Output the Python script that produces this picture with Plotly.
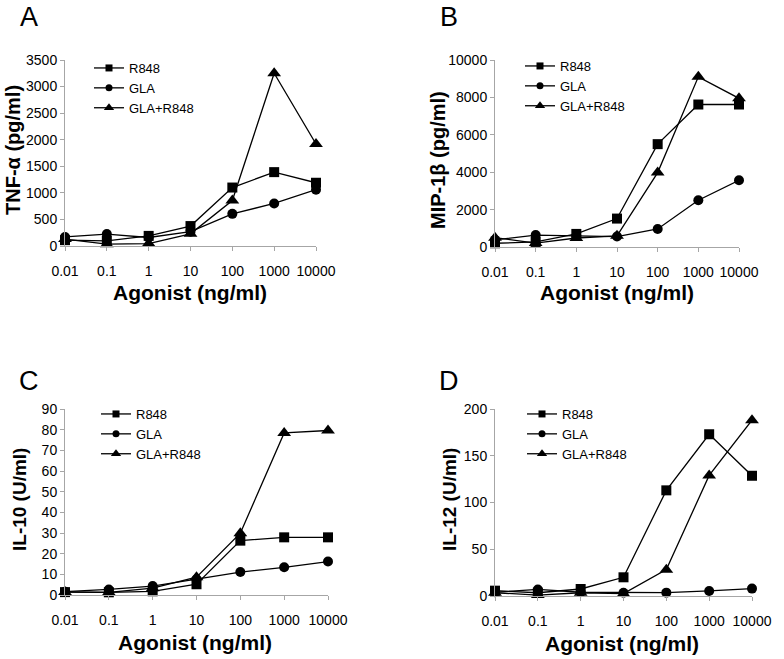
import plotly.graph_objects as go

# ---------------- data ----------------
dose_labels = ["0.01", "0.1", "1", "10", "100", "1000", "10000"]
log_dose = [-2, -1, 0, 1, 2, 3, 4]
series_names = ["R848", "GLA", "GLA+R848"]

tnf_r848 = [110, 95, 190, 375, 1100, 1390, 1190]
tnf_gla = [170, 225, 160, 270, 605, 800, 1060]
tnf_combo = [130, 35, 45, 230, 855, 3250, 1920]

mip_r848 = [200, 270, 700, 1520, 5500, 7620, 7620]
mip_gla = [380, 640, 590, 560, 965, 2500, 3570]
mip_combo = [500, 210, 480, 600, 3980, 9100, 7950]

il10_r848 = [1.4, 1.3, 1.8, 5.2, 26.3, 27.9, 27.9]
il10_gla = [1.6, 2.7, 4.3, 7.6, 11.1, 13.4, 16.2]
il10_combo = [1.5, 1.3, 3.3, 8.6, 29.9, 78.4, 79.6]

il12_r848 = [5.7, 3.5, 7.5, 20, 113, 173, 128.6]
il12_gla = [4.0, 7.0, 4.0, 3.5, 3.6, 5.4, 7.9]
il12_combo = [3.5, 1.0, 3.5, 2.5, 28.2, 129, 188]

panels = [
    dict(letter="A", ytitle="TNF-α (pg/ml)", data=[tnf_r848, tnf_gla, tnf_combo],
         ytick=list(range(0, 3501, 500)), yr=3500),
    dict(letter="B", ytitle="MIP-1β (pg/ml)", data=[mip_r848, mip_gla, mip_combo],
         ytick=list(range(0, 10001, 2000)), yr=10000),
    dict(letter="C", ytitle="IL-10 (U/ml)", data=[il10_r848, il10_gla, il10_combo],
         ytick=list(range(0, 91, 10)), yr=90),
    dict(letter="D", ytitle="IL-12 (U/ml)", data=[il12_r848, il12_gla, il12_combo],
         ytick=list(range(0, 201, 50)), yr=200),
]

# ---------------- layout geometry (pixels) ----------------
W, H = 784, 659
boxes = [(65, 316, 60, 246), (495, 739, 60, 247), (65, 328, 409, 595), (495, 752, 409, 596)]
letter_pos = [(29, 17), (449, 17), (29, 381), (449, 381)]
ytitle_pos = [(13, 150), (438, 160), (19, 500), (449, 500)]
ytitle_size = [20, 20, 19, 19]
xtitle_pos = [(190, 293), (617, 293), (195, 642), (622, 643)]
legend_pos = [(89, 53), (520, 51), (96, 399), (522, 399)]

symbols = ["square", "circle", "triangle-up"]
sizes = [10, 10, 12]
leg_sizes = [7, 7, 9]
FONT = "Liberation Sans, Arial, sans-serif"
AXIS_GRAY = "#a6a6a6"


def px(x):
    return x / W


def py(y):
    return (H - y) / H


fig = go.Figure()
layout = dict(width=W, height=H, margin=dict(l=0, r=0, t=0, b=0, autoexpand=False),
              template="none",
              paper_bgcolor="white", plot_bgcolor="white",
              font=dict(family=FONT, size=14, color="black"),
              showlegend=True, annotations=[])

for i, p in enumerate(panels):
    n = i + 1
    xa = "x" if n == 1 else f"x{n}"
    ya = "y" if n == 1 else f"y{n}"
    lg = "legend" if n == 1 else f"legend{n}"
    for k in range(3):
        fig.add_trace(go.Scatter(
            x=log_dose, y=p["data"][k], xaxis=xa, yaxis=ya, mode="lines+markers",
            line=dict(color="black", width=1.3),
            marker=dict(symbol=symbols[k], size=sizes[k], color="black"),
            cliponaxis=False, showlegend=False, name=series_names[k]))
        # legend entry
        fig.add_trace(go.Scatter(
            x=[None], y=[None], xaxis=xa, yaxis=ya, mode="lines+markers",
            line=dict(color="black", width=1.3),
            marker=dict(symbol=symbols[k], size=leg_sizes[k], color="black"),
            showlegend=True, legend=lg, name=series_names[k]))
    l, r, t, b = boxes[i]
    xk = "xaxis" if n == 1 else f"xaxis{n}"
    yk = "yaxis" if n == 1 else f"yaxis{n}"
    layout[xk] = dict(domain=[px(l), px(r)], anchor=ya, range=[-2, 4],
                      tickvals=log_dose, ticktext=dose_labels, automargin=False,
                      showline=True, linecolor=AXIS_GRAY, linewidth=1,
                      ticks="outside", ticklen=4, tickcolor=AXIS_GRAY,
                      showgrid=False, zeroline=False, ticklabelstandoff=8,
                      tickfont=dict(size=14, family=FONT, color="black"))
    layout[yk] = dict(domain=[py(b), py(t)], anchor=xa, range=[0, p["yr"]],
                      tickvals=p["ytick"], ticktext=[str(v) for v in p["ytick"]],
                      automargin=False,
                      showline=True, linecolor=AXIS_GRAY, linewidth=1,
                      ticks="outside", ticklen=4, tickcolor=AXIS_GRAY,
                      showgrid=False, zeroline=False,
                      tickfont=dict(size=14, family=FONT, color="black"))
    lx, ly = legend_pos[i]
    layout[lg] = dict(x=px(lx), y=py(ly), xanchor="left", yanchor="top",
                      bgcolor="rgba(0,0,0,0)", borderwidth=0,
                      font=dict(size=13, family=FONT, color="black"),
                      tracegroupgap=0, itemwidth=30)
    ax_, ay_ = letter_pos[i]
    layout["annotations"].append(dict(text=p["letter"], x=px(ax_), y=py(ay_),
                                      xref="paper", yref="paper", showarrow=False,
                                      xanchor="center", yanchor="middle",
                                      font=dict(size=27, family=FONT, color="black")))
    tx, ty = ytitle_pos[i]
    layout["annotations"].append(dict(text=f"<b>{p['ytitle']}</b>", x=px(tx), y=py(ty),
                                      xref="paper", yref="paper", showarrow=False,
                                      textangle=-90, xanchor="center", yanchor="middle",
                                      font=dict(size=ytitle_size[i], family=FONT, color="black")))
    gx, gy = xtitle_pos[i]
    layout["annotations"].append(dict(text="<b>Agonist (ng/ml)</b>", x=px(gx), y=py(gy),
                                      xref="paper", yref="paper", showarrow=False,
                                      xanchor="center", yanchor="middle",
                                      font=dict(size=21, family=FONT, color="black")))

fig.update_layout(**layout)
fig.write_html("out.html", config={"displayModeBar": False},
               post_script="document.body.style.margin='0';document.body.style.padding='0';")
